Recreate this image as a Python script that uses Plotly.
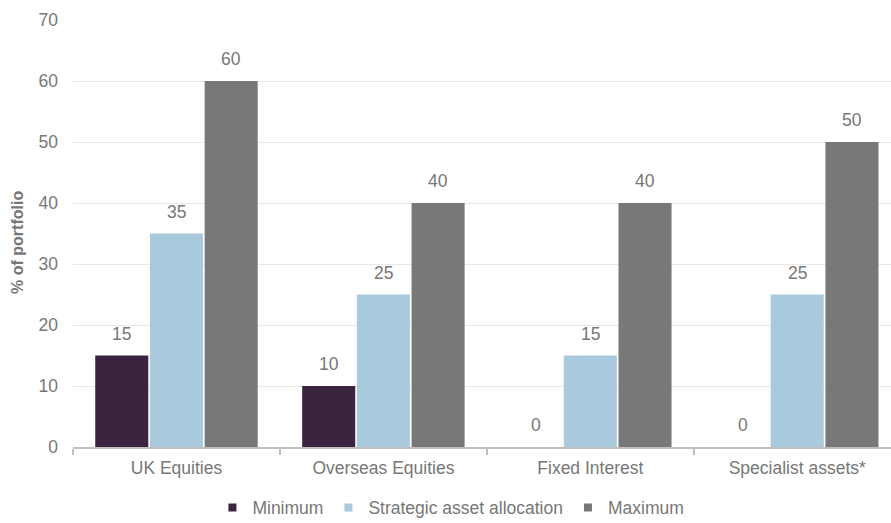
import plotly.graph_objects as go

categories = ["UK Equities", "Overseas Equities", "Fixed Interest", "Specialist assets*"]
series_names = ["Minimum", "Strategic asset allocation", "Maximum"]
minimum = [15, 10, 0, 0]
strategic = [35, 25, 15, 25]
maximum = [60, 40, 40, 50]
y_ticks = [0, 10, 20, 30, 40, 50, 60, 70]

colors = ["#3B2440", "#A9CADD", "#787878"]
text_col = "#777777"
FONT = "Liberation Sans, Arial, sans-serif"
FS = 17.5
bargap = 0.207
bargroupgap = 0.03

fig = go.Figure()
all_series = [minimum, strategic, maximum]
for name, vals, col in zip(series_names, all_series, colors):
    fig.add_trace(go.Bar(
        x=categories, y=vals, name=name, marker=dict(color=col, line=dict(width=0)),
        showlegend=False, hoverinfo="x+y+name"))
    # legend entry with a small square symbol
    fig.add_trace(go.Scatter(
        x=[None], y=[None], mode="markers", name=name,
        marker=dict(symbol="square", size=8, color=col), showlegend=True))

# value labels above bars
pitch = (1 - bargap) / len(all_series)
annotations = []
for k, vals in enumerate(all_series):
    for i, v in enumerate(vals):
        annotations.append(dict(
            x=i + (k - 1) * pitch, y=v, xref="x", yref="y", text=str(v),
            showarrow=False, yanchor="middle", yshift=22,
            font=dict(family=FONT, size=FS, color=text_col)))

annotations.append(dict(
    x=0, xref="paper", xshift=-55, y=0.478, yref="paper", text="<b>% of portfolio</b>",
    textangle=-90, showarrow=False, xanchor="center", yanchor="middle",
    font=dict(family=FONT, size=16, color=text_col)))

fig.update_layout(
    width=891, height=523,
    margin=dict(l=73, r=0, t=20, b=76, autoexpand=False),
    paper_bgcolor="white", plot_bgcolor="white",
    barmode="group", bargap=bargap, bargroupgap=bargroupgap,
    font=dict(family=FONT, size=FS, color=text_col),
    annotations=annotations,
    legend=dict(orientation="h", x=0.462, xanchor="center", y=-0.142, yanchor="middle",
                font=dict(family=FONT, size=FS, color=text_col),
                itemwidth=30, tracegroupgap=0, itemsizing="trace"),
    xaxis=dict(
        type="category", range=[-0.5, 3.453],
        showline=True, linecolor="#BFBFBF", linewidth=1.5,
        ticks="outside", tickson="boundaries", ticklen=6, tickcolor="#BFBFBF", tickwidth=1.5,
        ticklabelstandoff=4, showgrid=False,
        tickfont=dict(family=FONT, size=FS, color=text_col)),
    yaxis=dict(
        range=[0, 70], tickvals=y_ticks, ticktext=[str(t) for t in y_ticks],
        showgrid=True, gridcolor="#E8E8E8", gridwidth=1, zeroline=False,
        showline=False, ticks="", ticklabelstandoff=14,
        tickfont=dict(family=FONT, size=FS, color=text_col)),
)

fig.write_html("out.html")
